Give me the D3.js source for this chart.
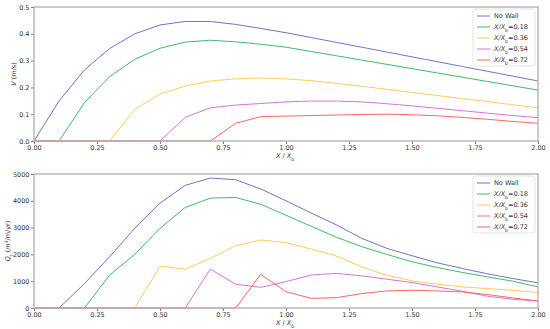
<!DOCTYPE html>
<html>
<head>
<meta charset="utf-8">
<script src="https://cdn.jsdelivr.net/npm/d3@7"></script>
<style>
  body { margin: 0; background: #fff; }
  text { font-family: "DejaVu Sans", sans-serif; fill: #333; }
</style>
</head>
<body>
<div id="chart"></div>
<script>
// x positions (X / Xb), shared by both panels
var xs = [0, 0.1, 0.2, 0.3, 0.4, 0.5, 0.6, 0.7, 0.8, 0.9, 1.0,
          1.1, 1.2, 1.3, 1.4, 1.5, 1.6, 1.7, 1.8, 1.9, 2.0];

var seriesNames = ["No Wall", "0.18", "0.36", "0.54", "0.72"];
var seriesColors = ["#7272cc", "#3fbb6a", "#ffcc5c", "#d874d8", "#ff6464"];

// top panel: V (m/s)
var vNoWall = [0, 0.15, 0.265, 0.345, 0.40, 0.433, 0.446, 0.446, 0.435, 0.42, 0.404,
               0.386, 0.368, 0.350, 0.332, 0.314, 0.296, 0.278, 0.260, 0.242, 0.224];
var v018 = [0, 0, 0.143, 0.24, 0.305, 0.346, 0.369, 0.376, 0.370, 0.361, 0.350,
            0.334, 0.318, 0.302, 0.286, 0.270, 0.254, 0.238, 0.222, 0.206, 0.19];
var v036 = [0, 0, 0, 0, 0.118, 0.175, 0.205, 0.224, 0.232, 0.235, 0.232,
            0.225, 0.215, 0.204, 0.193, 0.181, 0.170, 0.158, 0.147, 0.135, 0.124];
var v054 = [0, 0, 0, 0, 0, 0, 0.088, 0.124, 0.134, 0.140, 0.146,
            0.149, 0.149, 0.146, 0.139, 0.131, 0.122, 0.113, 0.104, 0.095, 0.087];
var v072 = [0, 0, 0, 0, 0, 0, 0, 0, 0.066, 0.091, 0.093,
            0.095, 0.097, 0.099, 0.100, 0.098, 0.094, 0.088, 0.081, 0.073, 0.066];

// bottom panel: Qt (m3/m/yr)
var qNoWall = [0, 0, 912, 1912, 2975, 3912, 4575, 4850, 4787, 4440, 4000,
               3545, 3100, 2600, 2225, 1950, 1687, 1475, 1275, 1100, 937];
var q018 = [0, 0, 0, 1225, 2000, 2975, 3750, 4100, 4125, 3870, 3460,
            3050, 2640, 2290, 2000, 1725, 1512, 1325, 1162, 1000, 787];
var q036 = [0, 0, 0, 0, 0, 1562, 1450, 1850, 2325, 2537, 2437,
            2200, 1940, 1537, 1225, 1012, 887, 787, 725, 662, 575];
var q054 = [0, 0, 0, 0, 0, 0, 0, 1450, 887, 772, 983,
            1231, 1293, 1200, 1075, 950, 787, 625, 437, 325, 262];
var q072 = [0, 0, 0, 0, 0, 0, 0, 0, 0, 1256, 609,
            361, 385, 537, 637, 662, 637, 600, 500, 375, 262];

var xTicks = [0, 0.25, 0.5, 0.75, 1.0, 1.25, 1.5, 1.75, 2.0];
var vTicks = [0, 0.1, 0.2, 0.3, 0.4, 0.5];
var qTicks = [0, 1000, 2000, 3000, 4000, 5000];

var svgWidth = 550;
var svgHeight = 329;

var svg = d3.select("#chart")
  .append("svg")
  .attr("width", svgWidth)
  .attr("height", svgHeight);

var x = d3.scaleLinear().domain([0, 2]).range([34, 538]);

function italicLabel(sel, parts) {
  // parts: [text, italic, baseline shift]
  parts.forEach(function(p) {
    var t = sel.append("tspan").text(p[0]);
    if (p[1]) t.attr("font-style", "italic");
    if (p[2]) t.attr("baseline-shift", p[2]).attr("font-size", "0.7em");
  });
}

function drawPanel(top, bottom, yDomain, yTicks, yFmt, data, yLabelParts, yLabelX, legendY) {
  var y = d3.scaleLinear().domain(yDomain).range([bottom, top]);
  var g = svg.append("g");

  // x axis
  var xAxis = g.append("g")
    .attr("transform", `translate(0, ${bottom})`)
    .call(d3.axisBottom(x).tickValues(xTicks).tickFormat(d3.format(".2f")).tickSize(3).tickPadding(1));
  xAxis.select(".domain").remove();

  // y axis
  var yAxis = g.append("g")
    .attr("transform", `translate(34, 0)`)
    .call(d3.axisLeft(y).tickValues(yTicks).tickFormat(yFmt).tickSize(3).tickPadding(1.5));
  yAxis.select(".domain").remove();

  g.selectAll(".tick line").attr("stroke", "#555").attr("stroke-width", 0.8);
  g.selectAll(".tick text").style("font-size", "6.5px").attr("fill", "#333");

  // lines
  var line = d3.line()
    .x(function(d, i) { return x(xs[i]); })
    .y(function(d) { return y(d); });

  data.forEach(function(vals, i) {
    g.append("path")
      .attr("d", line(vals))
      .attr("fill", "none")
      .attr("stroke", seriesColors[i])
      .attr("stroke-width", 1);
  });

  // frame
  g.append("rect")
    .attr("x", 34).attr("y", top)
    .attr("width", 504).attr("height", bottom - top)
    .attr("fill", "none")
    .attr("stroke", "#b4b4b4")
    .attr("stroke-width", 1.4);

  // x label
  var xl = g.append("text")
    .attr("x", 285).attr("y", bottom + 16.5)
    .attr("text-anchor", "middle")
    .style("font-size", "6.5px");
  italicLabel(xl, [["X", true], [" / ", false], ["X", true], ["b", false, "sub"]]);

  // y label
  var yl = g.append("text")
    .attr("transform", `translate(${yLabelX}, ${(top + bottom) / 2}) rotate(-90)`)
    .attr("text-anchor", "middle")
    .style("font-size", "6.5px");
  italicLabel(yl, yLabelParts);

  // legend
  var lg = g.append("g").attr("transform", `translate(473, ${legendY})`);
  lg.append("rect")
    .attr("width", 62).attr("height", 57)
    .attr("rx", 2)
    .attr("fill", "#fff")
    .attr("fill-opacity", 0.85)
    .attr("stroke", "#ddd")
    .attr("stroke-width", 0.8);
  seriesNames.forEach(function(name, i) {
    var ry = 7 + i * 11;
    lg.append("line")
      .attr("x1", 4).attr("x2", 17)
      .attr("y1", ry).attr("y2", ry)
      .attr("stroke", seriesColors[i])
      .attr("stroke-width", 1);
    var t = lg.append("text")
      .attr("x", 21).attr("y", ry + 2.3)
      .style("font-size", "6.5px");
    if (i === 0) {
      t.text(name);
    } else {
      italicLabel(t, [["X", true], ["/", true], ["X", true], ["b", false, "sub"], ["=" + name, false]]);
    }
  });
}

drawPanel(7, 141, [0, 0.5], vTicks, d3.format(".1f"),
  [vNoWall, v018, v036, v054, v072],
  [["V", true], [" (m/s)", false]], 16, 9);

drawPanel(174, 308, [0, 5000], qTicks, d3.format("d"),
  [qNoWall, q018, q036, q054, q072],
  [["Q", true], ["t", false, "sub"], [" (", false], ["m", true], ["3", false, "super"], ["/m/yr)", false]], 10, 176);
</script>
</body>
</html>
